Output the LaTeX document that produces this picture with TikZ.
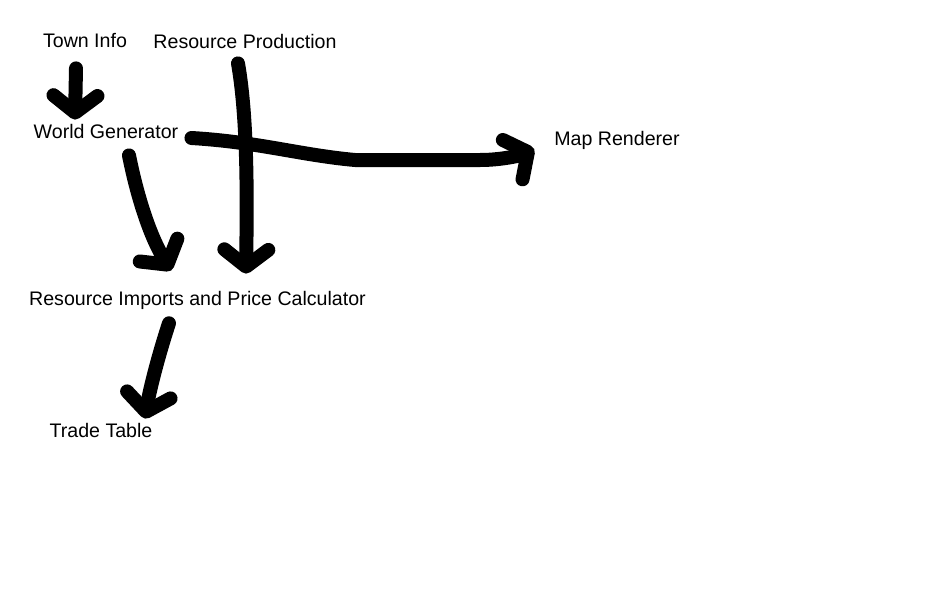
\documentclass[tikz,border=0pt]{standalone}
\usepackage{fontspec}
\setmainfont{Liberation Sans}
\usetikzlibrary{arrows.meta}

\begin{document}
\begin{tikzpicture}[
  x=1pt, y=-1pt,
  module/.style={anchor=base, inner sep=0pt, font=\fontsize{19.6}{22}\selectfont},
  scribble/.style={line width=14pt, line cap=round, line join=round,
    -{Straight Barb[round, length=17pt, width=44pt]}}
]
\useasboundingbox (0,0) rectangle (950,600);

% Modules
\node[module] (town) at (85,47) {Town Info};
\node[module] (prod) at (245,48) {Resource Production};
\node[module] (world) at (106,138) {World Generator};
\node[module] (map) at (617,145) {Map Renderer};
\node[module] (calc) at (197.5,305) {Resource Imports and Price Calculator};
\node[module] (trade) at (101,437) {Trade Table};

% Connections
\draw[scribble] ([shift={(-9,21)}]town.south) -- ([shift={(-31,-4)}]world.north);
\draw[scribble] ([shift={(23,17)}]world.south)
  .. controls +(9,45) and +(-20,-33) .. ([shift={(-26.5,-20)}]calc.north);
\draw[scribble] ([shift={(-7,15)}]prod.south)
  .. controls +(10,57) and +(1,-70) .. ([shift={(48.5,-17)}]calc.north);
\draw[scribble] ([shift={(13,7)}]world.east)
  .. controls +(67,4) and +(-55,-5) .. (355,160) -- (480,160)
  .. controls +(25,0) and +(-10,5) .. ([shift={(-20,9)}]map.west);
\draw[scribble] ([shift={(-28.5,14)}]calc.south)
  .. controls +(-9,27) and +(5,-31) .. ([shift={(44,-4)}]trade.north);

\end{tikzpicture}
\end{document}
